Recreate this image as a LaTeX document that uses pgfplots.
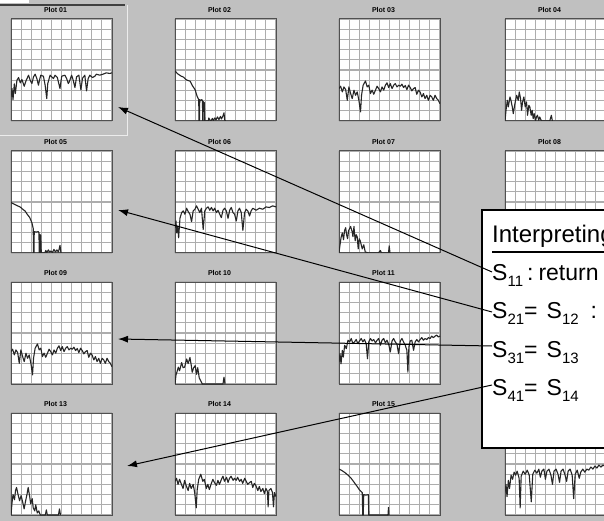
\documentclass[border=0pt]{standalone}
\usepackage{pgfplots}
\pgfplotsset{compat=1.18}
\usepackage{pgfplotstable}
\usepackage{fontspec}
\setmainfont{Liberation Sans}
\usetikzlibrary{arrows.meta}
\definecolor{bg}{HTML}{C0C0C0}
\definecolor{tracec}{HTML}{262626}
\definecolor{gridc}{HTML}{ADADAD}
\definecolor{framec}{HTML}{505050}

% ---------- S11-type traces ----------
\pgfplotstableread{
x y
0 2.36
0.1 3.18
0.2 2.10
0.33 3.64
0.43 2.69
0.59 4.00
0.75 4.26
0.92 3.74
1.08 4.07
1.31 3.41
1.51 4.00
1.74 4.49
1.90 4.00
2.07 3.67
2.23 4.33
2.39 4.59
2.56 4.16
2.72 3.51
2.82 4.00
2.95 4.49
3.21 4.39
3.38 3.51
3.54 2.20
3.64 3.67
3.87 4.49
4.20 4.16
4.36 4.49
4.59 4.26
4.85 3.18
5.02 4.39
5.34 4.49
5.51 4.16
5.67 3.67
5.77 3.84
6.00 4.49
6.16 4.00
6.33 3.28
6.49 4.33
6.72 4.49
6.92 3.05
7.08 4.20
7.31 4.49
7.48 2.95
7.64 4.16
7.80 4.49
8.07 4.26
8.30 4.39
8.46 4.59
8.79 4.49
9.11 4.59
9.44 4.72
9.77 4.66
10.0 4.72
}\tabSa

\pgfplotstableread{
x y
0 2.48
0.10 3.14
0.16 1.98
0.26 2.64
0.36 1.49
0.49 3.40
0.66 3.96
0.82 4.13
0.98 3.80
1.15 4.39
1.31 4.06
1.48 3.80
1.64 3.07
1.80 4.13
1.97 4.29
2.13 4.62
2.30 4.29
2.46 3.96
2.62 4.39
2.79 2.31
2.95 4.13
3.11 4.39
3.28 4.52
3.44 4.19
3.61 4.46
3.77 4.13
3.93 4.39
4.10 3.96
4.26 4.19
4.43 3.80
4.59 3.47
4.75 4.19
4.92 4.39
5.08 4.13
5.25 3.40
5.41 4.19
5.57 4.46
5.74 3.96
5.90 3.80
6.07 3.14
6.23 4.13
6.39 4.39
6.56 3.96
6.72 2.21
6.89 3.96
7.05 4.29
7.21 4.13
7.38 3.63
7.54 4.13
7.70 4.39
8.03 4.19
8.36 4.39
8.69 4.29
9.02 4.52
9.34 4.46
9.67 4.62
10.0 4.52
}\tabSb

\pgfplotstableread{
x y
0 2.15
0.10 2.97
0.20 1.98
0.33 3.30
0.43 2.64
0.56 3.80
0.72 3.47
0.89 4.29
1.05 4.13
1.21 4.46
1.38 3.96
1.54 4.13
1.70 4.36
1.87 3.96
2.03 4.22
2.20 4.46
2.36 4.13
2.52 4.36
2.69 3.96
2.82 2.48
2.95 4.13
3.11 4.46
3.28 4.22
3.44 4.36
3.61 4.03
3.77 4.29
3.93 4.46
4.10 3.80
4.26 4.29
4.43 4.46
4.59 4.03
4.75 4.29
4.92 3.90
5.08 3.14
5.25 4.22
5.41 4.46
5.57 4.13
5.74 3.90
5.90 2.97
6.07 4.22
6.23 4.46
6.39 4.13
6.56 3.80
6.72 3.30
6.82 1.16
6.92 3.63
7.05 4.22
7.21 4.29
7.38 3.30
7.54 4.13
7.70 4.36
7.87 4.13
8.03 4.36
8.20 4.55
8.36 4.29
8.52 4.46
8.69 4.36
8.85 4.55
9.02 4.46
9.18 4.69
9.34 4.55
9.51 4.69
9.67 4.79
9.84 4.62
10.0 4.69
}\tabSc

\pgfplotstableread{
x y
0 2.2
0.1 3.0
0.2 1.8
0.33 3.4
0.45 2.6
0.6 3.9
0.75 3.5
0.9 4.2
1.05 3.9
1.2 4.3
1.4 3.6
1.5 0.7
1.6 3.8
1.8 4.3
2.0 4.0
2.2 4.4
2.4 3.9
2.6 1.3
2.75 4.0
2.95 4.4
3.15 4.1
3.35 4.5
3.5 3.7
3.65 4.3
3.85 4.5
4.0 3.5
4.15 4.3
4.35 4.5
4.55 3.9
4.7 3.0
4.85 4.3
5.05 4.5
5.25 4.0
5.4 3.2
5.55 4.3
5.75 4.5
5.95 3.9
6.1 3.3
6.25 4.3
6.45 4.5
6.65 3.9
6.8 1.6
6.95 4.0
7.15 4.4
7.35 3.6
7.5 4.2
7.7 4.5
7.9 4.2
8.1 4.5
8.3 4.4
8.5 4.7
8.7 4.5
8.9 4.8
9.1 4.6
9.3 4.9
9.5 4.7
9.7 4.9
9.85 4.8
10 4.9
}\tabSd

% ---------- S21-type traces ----------
\pgfplotstableread{
x y
0 4.9
0.15 4.75
0.3 4.6
0.45 4.5
0.6 4.4
0.75 4.35
0.9 4.25
1.05 4.1
1.2 4.0
1.35 3.95
1.5 3.9
1.6 3.7
1.7 3.5
1.8 3.35
1.9 3.2
2.0 3.05
2.1 2.7
2.2 2.4
2.3 2.2
2.35 2.1
2.37 0
2.42 0
2.45 2.1
2.55 2.0
2.65 2.1
2.72 2.0
2.74 0
2.78 0
2.8 1.9
2.9 1.8
2.95 0
3.3 0
3.35 0.3
3.45 0.1
3.55 0
3.7 0.25
3.8 0.05
3.95 0.3
4.05 0.1
4.2 0.4
4.35 0.15
4.5 0.45
4.6 0.2
4.75 0.5
4.85 0.8
4.92 0.1
5.0 0
}\tabTa

\pgfplotstableread{
x y
0 4.95
0.3 4.8
0.6 4.65
0.92 4.5
1.15 4.3
1.41 4.1
1.6 3.8
1.84 3.5
2.07 2.97
2.2 2.4
2.23 0
2.28 0
2.3 2.1
2.5 2.05
2.7 2.1
2.77 2.0
2.79 0
2.85 0
2.88 1.8
2.95 1.7
3.0 0
3.35 0
3.45 0.25
3.55 0.05
3.7 0.3
3.8 0.1
3.95 0.2
4.1 0.05
4.25 0.35
4.4 0.1
4.55 0.3
4.7 0.1
4.85 0.75
4.95 0
5.0 0
}\tabTb

\pgfplotstableread{
x y
0 4.5
0.3 4.35
0.6 4.15
0.9 3.9
1.2 3.6
1.5 3.2
1.8 2.8
2.0 2.5
2.2 2.3
2.3 2.2
2.35 0
2.4 0
2.45 2.0
2.65 1.95
2.9 2.0
2.95 0
4.85 0
4.9 0.75
4.95 0
}\tabTc

% ---------- S31-type traces ----------
\pgfplotstableread{
x y
0 3.18
0.16 3.41
0.33 2.85
0.49 3.34
0.66 3.08
0.82 2.03
0.98 3.34
1.15 2.69
1.31 2.20
1.48 3.02
1.64 2.52
1.80 2.85
1.97 2.03
2.13 0.89
2.23 2.52
2.39 3.51
2.62 3.93
2.79 3.34
2.95 3.51
3.11 2.69
3.28 3.02
3.44 2.62
3.61 3.02
3.77 3.41
3.93 3.18
4.10 2.85
4.26 3.34
4.43 3.02
4.59 3.51
4.75 3.74
4.92 3.28
5.08 3.67
5.25 3.18
5.41 3.51
5.57 3.67
5.74 3.34
5.90 3.51
6.07 3.41
6.23 3.61
6.39 3.28
6.56 3.48
6.72 3.08
6.89 3.51
7.05 3.28
7.21 2.95
7.38 3.18
7.54 3.28
7.70 2.62
7.87 3.02
8.03 2.85
8.20 2.36
8.36 2.69
8.52 2.20
8.69 2.52
8.85 2.03
9.02 2.52
9.18 2.36
9.34 2.03
9.51 2.52
9.67 2.20
9.84 2.03
10.0 1.70
}\tabUa

\pgfplotstableread{
x y
0 3.3
0.15 3.6
0.3 3.0
0.45 3.5
0.6 3.1
0.8 2.6
0.95 3.4
1.1 2.9
1.3 2.4
1.45 3.1
1.6 2.6
1.8 3.0
1.95 2.2
2.1 0.7
2.2 2.5
2.35 3.5
2.55 4.0
2.75 3.3
2.9 3.5
3.1 2.6
3.25 3.0
3.4 2.5
3.6 3.1
3.75 3.5
3.9 3.2
4.1 2.9
4.25 3.4
4.4 3.0
4.6 3.5
4.75 3.8
4.9 3.3
5.1 3.7
5.25 3.2
5.4 3.6
5.55 3.8
5.75 3.4
5.9 3.6
6.05 3.4
6.2 3.7
6.4 3.3
6.55 3.5
6.7 3.1
6.9 3.6
7.05 3.3
7.2 3.0
7.4 3.2
7.55 3.3
7.7 2.7
7.85 3.1
8.0 2.9
8.2 2.4
8.35 2.8
8.5 2.3
8.7 2.6
8.85 2.1
9.0 2.6
9.15 2.3
9.22 0.8
9.3 2.4
9.5 2.6
9.65 2.2
9.75 0.8
9.85 2.2
10 1.8
}\tabUb

% ---------- S41-type traces ----------
\pgfplotstableread{
x y
0 0
0.10 1.05
0.23 2.03
0.33 1.38
0.49 2.36
0.59 2.03
0.72 1.38
0.82 0.72
0.98 1.70
1.15 2.52
1.31 2.03
1.41 2.85
1.54 2.20
1.64 1.05
1.74 1.87
1.87 2.36
2.00 1.38
2.13 1.87
2.23 0.56
2.36 1.54
2.46 1.38
2.59 0.56
2.69 1.05
2.79 0.23
2.89 0.72
3.02 0
3.11 0.39
3.21 0.56
3.34 0.07
3.44 0.39
3.61 0
4.43 0
4.59 0.56
4.69 0
}\tabVa

\pgfplotstableread{
x y
0 0
0.1 0.8
0.2 1.5
0.33 1.98
0.45 1.3
0.55 2.2
0.66 2.48
0.75 1.8
0.85 1.4
0.95 2.2
1.15 2.6
1.3 2.1
1.38 1.6
1.48 2.6
1.6 1.2
1.7 1.8
1.8 1.6
1.9 0.4
2.0 1.4
2.1 1.2
2.3 0.4
2.45 0.8
2.6 0.1
2.9 0
3.9 0
4.1 0.25
4.2 0
4.9 0
4.97 0.7
5.05 0
}\tabVb

\pgfplotstableread{
x y
0 0
0.1 0.9
0.2 1.2
0.33 1.65
0.45 1.3
0.66 2.1
0.8 1.6
0.95 1.65
1.15 2.45
1.3 2.0
1.48 2.6
1.6 1.9
1.7 1.15
1.85 1.6
2.0 1.8
2.13 0.95
2.25 1.6
2.4 0.6
2.55 0.3
2.7 0
4.75 0
4.85 0.66
4.95 0
}\tabVc

\pgfplotstableread{
x y
0 0
0.1 1.2
0.2 2.0
0.35 1.5
0.45 2.4
0.55 2.7
0.7 2.0
0.85 1.4
1.0 1.9
1.15 1.3
1.3 0.6
1.45 1.4
1.6 2.1
1.7 2.7
1.85 1.8
1.95 1.1
2.1 1.6
2.2 0.7
2.35 0.4
2.45 1.0
2.6 0.2
2.75 0.4
2.9 0
3.4 0
3.5 0.5
3.6 0
4.7 0
4.8 0.6
4.9 0
}\tabVd

\pgfplotsset{
  spp/.style={
    scale only axis, width=101pt, height=102pt, anchor=north west,
    xmin=0, xmax=10, ymin=0, ymax=10,
    xtick={0,1,...,10}, ytick={0,1,...,10},
    xticklabels={}, yticklabels={}, major tick length=0pt,
    grid=major, major grid style={color=gridc, line width=1.1pt},
    axis line style={color=framec, line width=1pt},
    axis background/.style={fill=white},
    title style={font=\fontsize{7}{8}\selectfont\bfseries, anchor=base,
                 at={(0.5,1)}, yshift=0.5pt, xshift=-6pt},
  },
  trace/.style={color=tracec, line width=1.1pt, line join=round, mark=none},
}

\newcommand{\splot}[4]{%
  \begin{axis}[spp, at={(#1pt,-#2pt)}, title={Plot #3}]
    \addplot[trace] table {#4};
  \end{axis}}
% panels whose title is hidden behind the text box
\newcommand{\hplot}[3]{%
  \begin{axis}[spp, at={(#1pt,-#2pt)}]
    \addplot[trace] table {#3};
  \end{axis}}
\newcommand{\sub}[1]{\raisebox{-6.5pt}{\fontsize{15}{15}\selectfont #1}}

\begin{document}
\begin{tikzpicture}
\useasboundingbox (0pt,0pt) rectangle (604pt,-521pt);
\clip (0pt,0pt) rectangle (604pt,-521pt);
\fill[bg] (0pt,0pt) rectangle (604pt,-521pt);
\begin{scope}[x=1pt,y=-1pt]
  \fill[white] (0,0) rectangle (29,3);
  \draw[color=black!75, line width=1.6pt] (0,4.8) -- (125,4.8);
  \draw[color=white!85!gray, line width=1pt] (127,5) -- (127,136) -- (0,136);
\end{scope}

\splot{11}{19}{01}{\tabSa}
\splot{175}{19}{02}{\tabTa}
\splot{339}{19}{03}{\tabUa}
\splot{505}{19}{04}{\tabVa}
\splot{11}{151}{05}{\tabTb}
\splot{175}{151}{06}{\tabSb}
\splot{339}{151}{07}{\tabVb}
\splot{505}{151}{08}{\tabUb}
\splot{11}{282}{09}{\tabUa}
\splot{175}{282}{10}{\tabVc}
\splot{339}{282}{11}{\tabSc}
\hplot{505}{282}{\tabTc}
\splot{11}{413}{13}{\tabVd}
\splot{175}{413}{14}{\tabUb}
\splot{339}{413}{15}{\tabTc}
\hplot{505}{413}{\tabSd}

\begin{scope}[x=1pt,y=-1pt]
  \draw[fill=white, draw=black, line width=1.5pt] (482,210) rectangle (620,448);
  \begin{scope}[line width=1pt, -{Latex[length=10pt,width=7pt]}]
    \draw (492,272) -- (118,107);
    \draw (492,312) -- (118,210);
    \draw (492,346) -- (118,339);
    \draw (492,385) -- (127,466);
  \end{scope}
  \node[anchor=base west, inner sep=0pt, font=\fontsize{24}{24}\selectfont] at (492,242) {Interpreting};
  \draw[line width=2.2pt] (492,252) -- (620,252);
  \node[anchor=base west, inner sep=0pt, font=\fontsize{23}{23}\selectfont] at (492,280)
    {S\sub{11}\hspace{4pt}:\hspace{5pt}return};
  \node[anchor=base west, inner sep=0pt, font=\fontsize{23}{23}\selectfont] at (492,318)
    {S\sub{21}=\hspace{9pt}S\sub{12}\hspace{12pt}:};
  \node[anchor=base west, inner sep=0pt, font=\fontsize{23}{23}\selectfont] at (492,357)
    {S\sub{31}=\hspace{9pt}S\sub{13}};
  \node[anchor=base west, inner sep=0pt, font=\fontsize{23}{23}\selectfont] at (492,395)
    {S\sub{41}=\hspace{9pt}S\sub{14}};
\end{scope}
\end{tikzpicture}
\end{document}
